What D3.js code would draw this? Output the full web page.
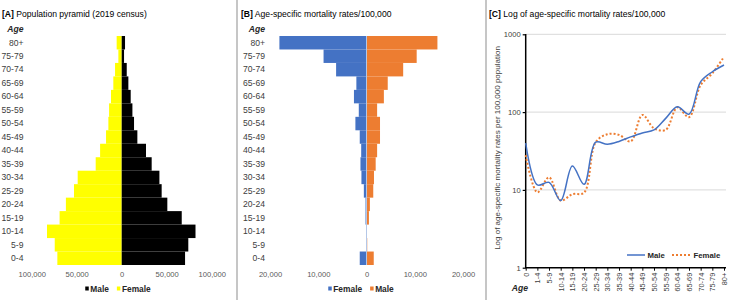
<!DOCTYPE html>
<html>
<head>
<meta charset="utf-8">
<script src="https://cdn.jsdelivr.net/npm/d3@7"></script>
<style>
  body { margin: 0; background: #fff; }
  svg { font-family: "Liberation Sans", Arial, sans-serif; }
  .domain { display: none; }
</style>
</head>
<body>
<script>
// age groups, youngest first
var ageGroups = ["0-4","5-9","10-14","15-19","20-24","25-29","30-34","35-39","40-44",
                 "45-49","50-54","55-59","60-64","65-69","70-74","75-79","80+"];

// [A] population 2019 census
var popMale   = [70400, 74000, 82000, 66700, 50700, 44400, 41900, 33300, 27000,
                 17400, 13700, 11900, 10000, 7400, 5600, 2600, 3700];
var popFemale = [71500, 74400, 83000, 69000, 62000, 53000, 48900, 28900, 24000,
                 17400, 14800, 14000, 11900, 9300, 7400, 3700, 5600];
var popTicks = [-100000, -50000, 0, 50000, 100000];

// [B] age-specific mortality rates
var mortFemale = [1400, 100, 100, 200, 200, 550, 1050, 1250, 1100,
                  1400, 2300, 1600, 2600, 2100, 6300, 8900, 18050];
var mortMale   = [1500, 150, 100, 500, 700, 1400, 1550, 1900, 2200,
                  2800, 2800, 2200, 3600, 4400, 7600, 10400, 14700];
var mortTicks = [-20000, -10000, 0, 10000, 20000];

// [C] log of rates
var logAges = ["0","1-4","5-9","10-14","15-19","20-24","25-29","30-34","35-39","40-44",
               "45-49","50-54","55-59","60-64","65-69","70-74","75-79","80+"];
var logMale   = [40, 11.6, 12.5, 7.3, 20.3, 11.8, 41, 38.6, 42, 48,
                 54, 59, 83, 117, 94, 246, 330, 403];
var logFemale = [28, 9.3, 14.5, 7.3, 8.8, 9.2, 41, 52, 51, 42,
                 92, 62, 59, 115, 86, 223, 315, 515];
var logTicks = [1, 10, 100, 1000];

var W = 730, H = 300;
var blue = "#4472C4", orange = "#ED7D31";
var fmt = d3.format(",");

var svg = d3.select("body").append("svg")
    .attr("width", W)
    .attr("height", H);

// panel separators
[237, 486].forEach(function(x){
  svg.append("line")
    .attr("x1", x).attr("x2", x)
    .attr("y1", 0).attr("y2", H)
    .attr("stroke", "#b3b3b3")
    .attr("stroke-width", 1.5);
});

function title(x, tag, text) {
  var t = svg.append("text")
    .attr("x", x).attr("y", 17)
    .attr("font-size", 8.6)
    .attr("fill", "#000");
  t.append("tspan").attr("font-weight", "bold").text(tag);
  t.append("tspan").text(" " + text);
}

function ageLabel(x, y) {
  svg.append("text")
    .attr("x", x).attr("y", y)
    .attr("text-anchor", "end")
    .attr("font-size", 8.6)
    .attr("font-weight", "bold")
    .attr("font-style", "italic")
    .attr("fill", "#262626")
    .text("Age");
}

// square-marker legend, centred on cx
function legend(cx, y, items) {
  var g = svg.append("g");
  var x = 0;
  items.forEach(function(it){
    g.append("rect")
      .attr("x", x).attr("y", -5.5)
      .attr("width", 3.5).attr("height", 4)
      .attr("fill", it.color);
    var t = g.append("text")
      .attr("x", x + 5).attr("y", 0)
      .attr("font-size", 8.4)
      .attr("font-weight", "bold")
      .attr("fill", "#262626")
      .text(it.name);
    x += 5 + t.node().getComputedTextLength() + 8;
  });
  var w = x - 8;
  g.attr("transform", "translate(" + (cx - w / 2) + "," + y + ")");
}

// pyramid style panel
function pyramid(opts) {
  var x = d3.scaleLinear().domain([opts.ticks[0], opts.ticks[4]]).range(opts.xr);
  var y = d3.scaleBand().domain(ageGroups).range([265, 36]).padding(0);

  var g = svg.append("g");
  g.selectAll(".left").data(ageGroups)
    .enter().append("rect")
    .attr("x", function(d, i){ return x(-opts.left[i]); })
    .attr("y", function(d){ return y(d); })
    .attr("width", function(d, i){ return x(0) - x(-opts.left[i]); })
    .attr("height", y.bandwidth())
    .attr("fill", opts.leftColor);
  g.selectAll(".right").data(ageGroups)
    .enter().append("rect")
    .attr("x", x(0))
    .attr("y", function(d){ return y(d); })
    .attr("width", function(d, i){ return x(opts.right[i]) - x(0); })
    .attr("height", y.bandwidth())
    .attr("fill", opts.rightColor);

  if (opts.zeroLine) {
    g.append("line")
      .attr("x1", x(0)).attr("x2", x(0))
      .attr("y1", 36).attr("y2", 265)
      .attr("stroke", opts.zeroLine).attr("stroke-width", 1);
  }

  svg.append("g")
    .attr("transform", "translate(" + opts.labelX + ",0)")
    .call(d3.axisLeft(y).tickSize(0).tickPadding(0))
    .call(function(a){
      a.selectAll("text").attr("font-size", 8.6).attr("fill", "#404040")
        .attr("font-family", null);
    });

  svg.append("g")
    .attr("transform", "translate(0,265)")
    .call(d3.axisBottom(x).tickValues(opts.ticks).tickSize(0).tickPadding(7)
      .tickFormat(function(d){ return fmt(Math.abs(d)); }))
    .call(function(a){
      a.selectAll("text").attr("font-size", 7.6).attr("fill", "#595959")
        .attr("font-family", null);
    });

  ageLabel(opts.labelX, 32);
}

// [A]
title(2, "[A]", "Population pyramid (2019 census)");
pyramid({
  ticks: popTicks, xr: [31.7, 211.7],
  left: popFemale, right: popMale,
  leftColor: "#FFFF00", rightColor: "#000000",
  labelX: 23.5
});
legend(118, 292, [{name: "Male", color: "#000"}, {name: "Female", color: "#FFFF00"}]);

// [B]
title(241, "[B]", "Age-specific mortality rates/100,000");
pyramid({
  ticks: mortTicks, xr: [270, 463],
  left: mortFemale, right: mortMale,
  leftColor: blue, rightColor: orange,
  zeroLine: "#b4c7e7",
  labelX: 265
});
legend(361, 292, [{name: "Female", color: blue}, {name: "Male", color: orange}]);

// [C]
title(489, "[C]", "Log of age-specific mortality rates/100,000");

var cx = d3.scalePoint().domain(logAges).range([525.7, 724]).padding(0);
var cy = d3.scaleLog().domain([1, 1000]).range([267.7, 34.3]);

var gc = svg.append("g");
gc.selectAll(".grid").data(logTicks.slice(1))
  .enter().append("line")
  .attr("x1", 525.7).attr("x2", 726)
  .attr("y1", function(d){ return cy(d); })
  .attr("y2", function(d){ return cy(d); })
  .attr("stroke", "#d9d9d9").attr("stroke-width", 1);

svg.append("g")
  .attr("transform", "translate(525.7,0)")
  .call(d3.axisLeft(cy).tickValues(logTicks).tickFormat(d3.format("d")).tickSize(3).tickPadding(2))
  .call(function(a){
    a.selectAll("text").attr("font-size", 7.6).attr("fill", "#404040").attr("font-family", null);
    a.selectAll("line").attr("stroke", "#000").attr("stroke-width", 1.2);
  });

svg.append("g")
  .attr("transform", "translate(0,267.7)")
  .call(d3.axisBottom(cx).tickSize(3))
  .call(function(a){
    a.selectAll("text")
      .attr("font-size", 7.4).attr("fill", "#404040").attr("font-family", null)
      .attr("transform", "rotate(-90)")
      .attr("text-anchor", "end")
      .attr("x", -5).attr("y", 0)
      .attr("dy", "0.32em");
    a.selectAll("line").attr("stroke", "#000").attr("stroke-width", 1);
  });

// axis lines
gc.append("line")
  .attr("x1", 525.7).attr("x2", 525.7).attr("y1", 34).attr("y2", 268)
  .attr("stroke", "#000").attr("stroke-width", 1.5);
gc.append("line")
  .attr("x1", 525).attr("x2", 726).attr("y1", 267.7).attr("y2", 267.7)
  .attr("stroke", "#000").attr("stroke-width", 1.5);

var line = d3.line()
  .x(function(d, i){ return cx(logAges[i]); })
  .y(function(d){ return cy(d); })
  .curve(d3.curveCatmullRom.alpha(0.5));

svg.append("path")
  .attr("d", line(logFemale))
  .attr("fill", "none")
  .attr("stroke", orange)
  .attr("stroke-width", 2)
  .attr("stroke-dasharray", "2,2");

svg.append("path")
  .attr("d", line(logMale))
  .attr("fill", "none")
  .attr("stroke", blue)
  .attr("stroke-width", 1.5);

// y title
svg.append("text")
  .attr("transform", "translate(500,148) rotate(-90)")
  .attr("text-anchor", "middle")
  .attr("font-size", 8)
  .attr("fill", "#404040")
  .text("Log of age-specific mortality rates per 100,000 population");

ageLabel(528, 291);

// legend C
var lg = svg.append("g").attr("transform", "translate(0,255)");
lg.append("line").attr("x1", 627).attr("x2", 645).attr("y1", 0).attr("y2", 0)
  .attr("stroke", blue).attr("stroke-width", 1.5);
lg.append("text").attr("x", 647.5).attr("y", 3).attr("font-size", 7.8)
  .attr("font-weight", "bold").attr("fill", "#262626").text("Male");
lg.append("line").attr("x1", 672).attr("x2", 692).attr("y1", 0).attr("y2", 0)
  .attr("stroke", orange).attr("stroke-width", 2).attr("stroke-dasharray", "2,2");
lg.append("text").attr("x", 693.5).attr("y", 3).attr("font-size", 7.8)
  .attr("font-weight", "bold").attr("fill", "#262626").text("Female");
</script>
</body>
</html>
